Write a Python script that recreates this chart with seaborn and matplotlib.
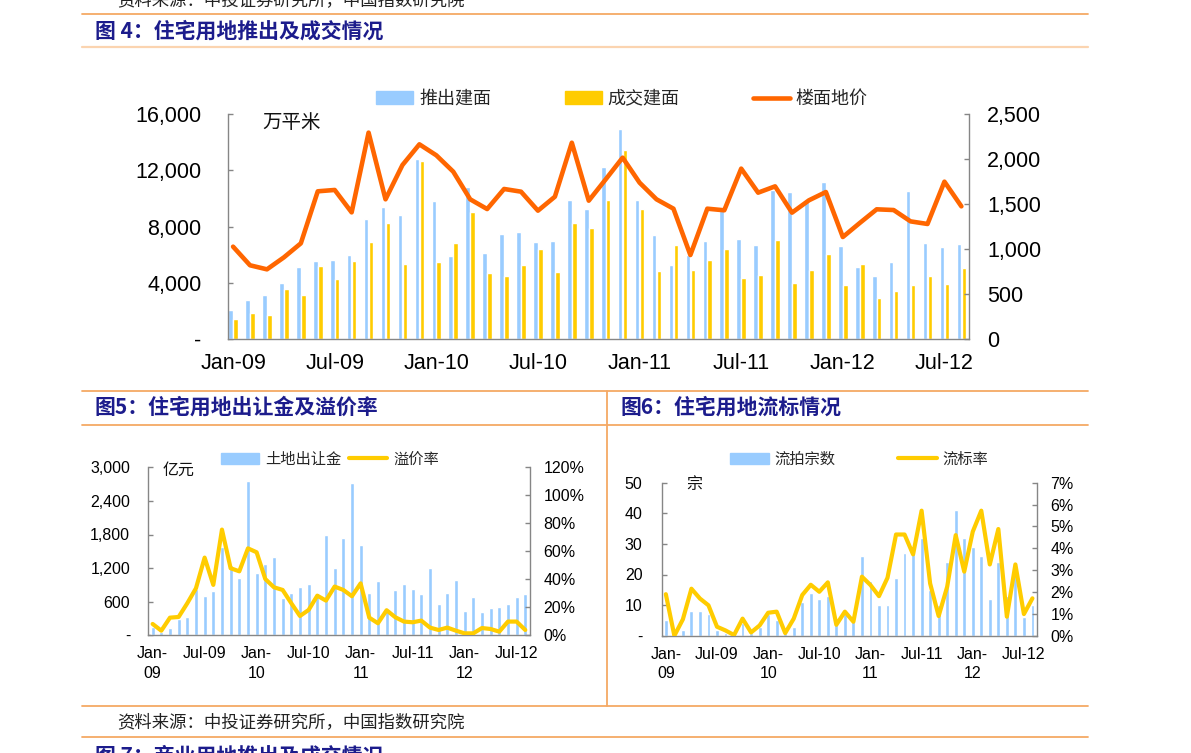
import numpy as np
import pandas as pd
import matplotlib
matplotlib.use('Agg')
import matplotlib.pyplot as plt
import seaborn as sns
from matplotlib.lines import Line2D
from matplotlib.patches import Patch
from matplotlib.font_manager import FontProperties

# ---------------- data ----------------
months = [d.strftime('%b-%y') for d in pd.date_range('2009-01-01', periods=44, freq='MS')]

launch_area = [2060, 2750, 3130, 3980, 5120, 5520, 5590, 5990, 8530, 9380, 8790, 12820,
               9810, 5900, 10800, 6090, 7490, 7610, 6900, 6940, 9880, 9240, 12250, 14900,
               9880, 7370, 5280, 6000, 6990, 9370, 7085, 6700, 10590, 10430, 9800, 11140,
               6590, 5120, 4455, 5450, 10500, 6850, 6520, 6730]
deal_area = [1450, 1820, 1710, 3550, 3100, 5210, 4290, 5550, 6900, 8270, 5330, 12650,
             5450, 6820, 9050, 4670, 4480, 5280, 6370, 4740, 8220, 7890, 9880, 13460,
             9220, 4830, 6700, 4930, 5590, 6400, 4310, 4550, 7010, 3960, 4900, 6020,
             3815, 5310, 2910, 3390, 3840, 4480, 3930, 5020]
floor_price = [1026, 819, 774, 907, 1063, 1641, 1656, 1407, 2293, 1552, 1933, 2163,
               2041, 1859, 1552, 1444, 1667, 1637, 1426, 1581, 2181, 1537, 1774, 2015,
               1737, 1552, 1448, 933, 1448, 1430, 1893, 1626, 1696, 1404, 1541, 1633,
               1133, 1289, 1441, 1433, 1307, 1278, 1748, 1474]

land_revenue = [143, 60, 125, 300, 327, 821, 708, 786, 1583, 1250, 1024, 2756,
                1119, 1268, 1399, 667, 750, 863, 911, 756, 1798, 1202, 1744, 2726,
                1613, 750, 976, 450, 810, 917, 821, 738, 1196, 554, 756, 988,
                435, 685, 417, 482, 500, 565, 685, 744]
premium_rate = [8.1, 3.3, 12.6, 13.1, 22.9, 33.6, 55.5, 36.0, 75.5, 47.9, 45.7, 62.1,
                59.3, 40.2, 34.3, 32.4, 22.9, 13.8, 18.1, 28.3, 24.8, 34.8, 32.4, 27.9,
                37.1, 12.6, 8.6, 17.9, 12.9, 9.8, 9.3, 10.5, 5.5, 3.8, 5.5, 3.3,
                1.4, 1.4, 5.2, 4.5, 2.6, 9.8, 9.8, 3.8]

failed_count = [5, 1, 2, 8, 8, 7, 2, 1, 1, 4, 1, 3, 7, 5, 1, 3, 11, 14, 12, 13, 4, 7,
                5, 26, 18, 10, 10, 19, 27, 27, 32, 15, 10, 24, 41, 32, 29, 26, 12, 24,
                13, 20, 6, 10]
failed_rate = [1.9, 0.0, 0.75, 2.15, 1.7, 1.39, 0.41, 0.24, 0.03, 0.78, 0.15, 0.47,
               1.05, 1.1, 0.12, 0.78, 1.86, 2.33, 2.01, 2.44, 0.5, 1.1, 0.64, 2.7,
               2.32, 1.81, 2.65, 4.63, 4.63, 3.72, 5.72, 2.39, 0.9, 2.24, 4.6, 2.93,
               4.76, 5.72, 3.26, 4.88, 0.87, 3.26, 0.99, 1.71]

xtick_pos = [0, 6, 12, 18, 24, 30, 36, 42]
xtick_top = ['Jan-09', 'Jul-09', 'Jan-10', 'Jul-10', 'Jan-11', 'Jul-11', 'Jan-12', 'Jul-12']
xtick_small = ['Jan-\n09', 'Jul-09', 'Jan-\n10', 'Jul-10', 'Jan-\n11', 'Jul-11', 'Jan-\n12', 'Jul-12']

top_left_ticks = [0, 4000, 8000, 12000, 16000]
top_left_labels = ['-', '4,000', '8,000', '12,000', '16,000']
top_right_ticks = [0, 500, 1000, 1500, 2000, 2500]
top_right_labels = ['0', '500', '1,000', '1,500', '2,000', '2,500']
f5_left_ticks = [0, 600, 1200, 1800, 2400, 3000]
f5_left_labels = ['-', '600', '1,200', '1,800', '2,400', '3,000']
f5_right_ticks = [0, 20, 40, 60, 80, 100, 120]
f5_right_labels = ['0%', '20%', '40%', '60%', '80%', '100%', '120%']
f6_left_ticks = [0, 10, 20, 30, 40, 50]
f6_left_labels = ['-', '10', '20', '30', '40', '50']
f6_right_ticks = [0, 1, 2, 3, 4, 5, 6, 7]
f6_right_labels = ['0%', '1%', '2%', '3%', '4%', '5%', '6%', '7%']

# ---------------- style ----------------
sns.set_theme(style='white')
plt.rcParams['font.family'] = ['Liberation Sans', 'Noto Sans CJK SC', 'DejaVu Sans']
CJK = ['Noto Sans CJK SC', 'DejaVu Sans']
SANS = ['Liberation Sans', 'DejaVu Sans']

BLUE = '#99CCFF'
YELLOW = '#FFCC00'
ORANGE = '#FF6600'
GREY = '#868686'
NAVY = '#1C1C8C'
RULE = '#F5A965'
RULE_LIGHT = '#FBD4B0'

W, H = 1191, 753
fig = plt.figure(figsize=(W / 100, H / 100), dpi=100)
fig.patch.set_facecolor('white')


def rect(l, t, r, b):
    return [l / W, 1 - b / H, (r - l) / W, (b - t) / H]


def hline(y, x0=82, x1=1088, color=RULE, lw=1.3):
    fig.add_artist(Line2D([x0 / W, x1 / W], [1 - y / H, 1 - y / H], transform=fig.transFigure,
                          color=color, lw=lw))


def vline(x, y0, y1, color=RULE, lw=1.3):
    fig.add_artist(Line2D([x / W, x / W], [1 - y0 / H, 1 - y1 / H], transform=fig.transFigure,
                          color=color, lw=lw))


def ftext(x, y, s, **kw):
    fig.text(x / W, 1 - y / H, s, **kw)


def style_axes(ax, ax2, xlim, lfont, lsize, lpad, rpad, xpad, minor):
    for a in (ax, ax2):
        for sp in a.spines.values():
            sp.set_visible(False)
    ax.spines['left'].set_visible(True)
    ax.spines['bottom'].set_visible(True)
    ax2.spines['right'].set_visible(True)
    for sp in (ax.spines['left'], ax.spines['bottom'], ax2.spines['right']):
        sp.set_color(GREY)
        sp.set_linewidth(1.0)
    ax.set_xlim(*xlim)
    ax.set_xticks(minor, minor=True)
    ax.tick_params(axis='x', which='major', length=0, pad=xpad)
    ax.tick_params(axis='x', which='minor', direction='in', length=3.5, color=GREY, width=1)
    ax.tick_params(axis='y', direction='in', length=3.5, color=GREY, width=1, pad=lpad, left=True)
    ax2.tick_params(axis='y', direction='in', length=3.5, color=GREY, width=1, pad=rpad, right=True)
    for lab in ax.get_xticklabels() + ax.get_yticklabels() + ax2.get_yticklabels():
        lab.set_fontfamily(lfont)
        lab.set_fontsize(lsize)
        lab.set_color('black')
    for lab in ax.get_xticklabels():
        lab.set_linespacing(1.35)
    ax.set_xlabel('')
    ax.set_ylabel('')
    ax2.set_xlabel('')
    ax2.set_ylabel('')
    ax.grid(False)
    ax2.grid(False)


# ---------------- header / rules ----------------
ftext(117, 0, '资料来源：中投证券研究所，中国指数研究院', family=CJK, fontsize=12.5,
      color='#222222', va='center', ha='left')
hline(14)
ftext(95, 31, '图 4：住宅用地推出及成交情况', family=CJK, fontsize=15, fontweight='bold',
      color=NAVY, va='center', ha='left')
hline(47, color=RULE_LIGHT, lw=1.6)
hline(391)
hline(425)
vline(607, 391, 706)
ftext(95, 407, '图5：住宅用地出让金及溢价率', family=CJK, fontsize=15, fontweight='bold',
      color=NAVY, va='center', ha='left')
ftext(620, 407, '图6：住宅用地流标情况', family=CJK, fontsize=15, fontweight='bold',
      color=NAVY, va='center', ha='left')
hline(706)
ftext(117, 722, '资料来源：中投证券研究所，中国指数研究院', family=CJK, fontsize=12.5,
      color='#222222', va='center', ha='left')
hline(737)
ftext(95, 756, '图 7：商业用地推出及成交情况', family=CJK, fontsize=15, fontweight='bold',
      color=NAVY, va='center', ha='left')

minor_ticks = [2.5 + 3 * k for k in range(14)]

# ---------------- chart 4 ----------------
ax = fig.add_axes(rect(228, 114, 969, 339))
df4 = pd.DataFrame({'month': months * 2,
                    'value': launch_area + deal_area,
                    'series': ['推出建面'] * 44 + ['成交建面'] * 44})
sns.barplot(data=df4, x='month', y='value', hue='series', order=months,
            hue_order=['推出建面', '成交建面'], palette=[BLUE, YELLOW], saturation=1,
            width=0.58, gap=0.06, errorbar=None, legend=False, ax=ax)
ax2 = ax.twinx()
sns.lineplot(x=np.arange(44), y=floor_price, color=ORANGE, linewidth=3.3, ax=ax2)
ax.set_ylim(0, 16000)
ax2.set_ylim(0, 2500)
ax.set_yticks(top_left_ticks, top_left_labels)
ax2.set_yticks(top_right_ticks, top_right_labels)
ax.set_xticks(xtick_pos, xtick_top)
style_axes(ax, ax2, (-0.3, 43.45), SANS, 15.5, 19, 13, 10, minor_ticks)
ftext(262, 123, '万平米', family=CJK, fontsize=14, va='center', ha='left', color='#111111')
fig.legend(handles=[Patch(color=BLUE), Patch(color=YELLOW), Line2D([], [], color=ORANGE, lw=3.3)],
           labels=['推出建面', '成交建面', '楼面地价'], loc='center',
           bbox_to_anchor=(622 / W, 1 - 99 / H), ncol=3, frameon=False,
           prop=FontProperties(family=CJK, size=13), handlelength=2.05,
           handletextpad=0.33, columnspacing=4.05)

# ---------------- chart 5 ----------------
ax5 = fig.add_axes(rect(148.3, 467.3, 529.6, 635.3))
sns.barplot(x=months, y=land_revenue, order=months, color=BLUE, saturation=1,
            width=0.45, errorbar=None, ax=ax5)
ax5b = ax5.twinx()
sns.lineplot(x=np.arange(44), y=premium_rate, color=YELLOW, linewidth=3.0, ax=ax5b)
ax5.set_ylim(0, 3000)
ax5b.set_ylim(0, 120)
ax5.set_yticks(f5_left_ticks, f5_left_labels)
ax5b.set_yticks(f5_right_ticks, f5_right_labels)
ax5.set_xticks(xtick_pos, xtick_small)
style_axes(ax5, ax5b, (-0.5, 43.5), SANS, 11.5, 13, 10, 8, minor_ticks)
ftext(163, 470, '亿元', family=CJK, fontsize=11.5, va='center', ha='left', color='#111111')
fig.legend(handles=[Patch(color=BLUE), Line2D([], [], color=YELLOW, lw=3.0)],
           labels=['土地出让金', '溢价率'], loc='center',
           bbox_to_anchor=(330 / W, 1 - 459 / H), ncol=2, frameon=False,
           prop=FontProperties(family=CJK, size=11), handlelength=2.5,
           handletextpad=0.4, columnspacing=0.45)

# ---------------- chart 6 ----------------
ax6 = fig.add_axes(rect(662, 482.7, 1036.7, 635.7))
sns.barplot(x=months, y=failed_count, order=months, color=BLUE, saturation=1,
            width=0.45, errorbar=None, ax=ax6)
ax6b = ax6.twinx()
sns.lineplot(x=np.arange(44), y=failed_rate, color=YELLOW, linewidth=3.0, ax=ax6b)
ax6.set_ylim(0, 50)
ax6b.set_ylim(0, 7)
ax6.set_yticks(f6_left_ticks, f6_left_labels)
ax6b.set_yticks(f6_right_ticks, f6_right_labels)
ax6.set_xticks(xtick_pos, xtick_small)
style_axes(ax6, ax6b, (-0.45, 43.5), SANS, 11.5, 14, 10, 8, minor_ticks)
ftext(686, 484, '宗', family=CJK, fontsize=11.5, va='center', ha='left', color='#111111')
fig.legend(handles=[Patch(color=BLUE), Line2D([], [], color=YELLOW, lw=3.0)],
           labels=['流拍宗数', '流标率'], loc='center',
           bbox_to_anchor=(859 / W, 1 - 459 / H), ncol=2, frameon=False,
           prop=FontProperties(family=CJK, size=11), handlelength=2.55,
           handletextpad=0.33, columnspacing=4.1)

fig.savefig('out.png', dpi=100, facecolor='white')
